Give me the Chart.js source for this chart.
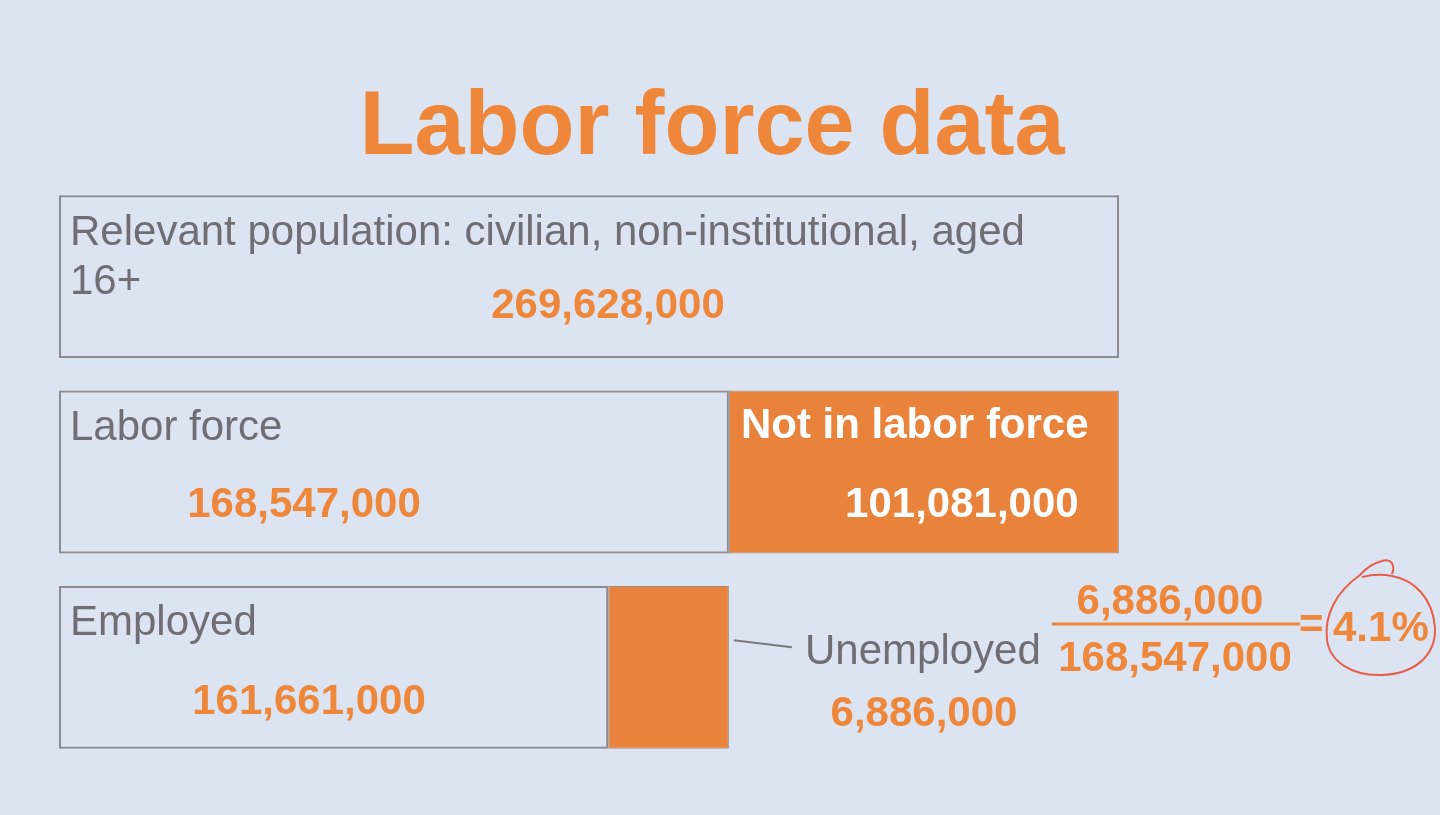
<!DOCTYPE html>
<html>
<head>
<meta charset="utf-8">
<script src="https://cdn.jsdelivr.net/npm/chart.js@4.4.0/dist/chart.umd.min.js"></script>
<style>
  html, body { margin: 0; padding: 0; background: #dce4f2; }
  #wrap { width: 1440px; height: 815px; position: relative; }
</style>
</head>
<body>
<div id="wrap"><canvas id="labor-chart"></canvas></div>
<script>
// rows of the slide, top to bottom
const rows = ['Population', 'Labor force split', 'Employment split'];

// bar widths in millions, as the slide sketches them
const firstPart = [269.628, 170.4, 139.7];
const secondPart = [null, 99.2, 30.7];

// texts printed on the bars
const firstNames = ['Relevant population: civilian, non-institutional, aged\n16+', 'Labor force', 'Employed'];
const firstCounts = ['269,628,000', '168,547,000', '161,661,000'];
const secondNames = [null, 'Not in labor force', 'Unemployed'];
const secondCounts = [null, '101,081,000', '6,886,000'];

// unemployment rate fraction
const rateTop = '6,886,000';
const rateBottom = '168,547,000';
const rateText = '4.1%';

const ORANGE = '#ee873a';
const BAR_ORANGE = '#e9823a';
const GRAY = '#6f6f73';
const FONT = '"Liberation Sans", Arial, sans-serif';

const slideText = {
  id: 'slideText',
  beforeDraw(chart) {
    const c = chart.ctx;
    c.save();
    c.fillStyle = '#dce4f2';
    c.fillRect(0, 0, chart.width, chart.height);
    c.restore();
  },
  afterDraw(chart) {
    const c = chart.ctx;
    const m1 = chart.getDatasetMeta(0).data;
    const m2 = chart.getDatasetMeta(1).data;
    c.save();

    // title
    c.textBaseline = 'alphabetic';
    c.font = 'bold 90px ' + FONT;
    c.fillStyle = ORANGE;
    c.textAlign = 'center';
    c.fillText('Labor force data', 712, 154);

    c.textBaseline = 'middle';
    const valueDx = [549, 245, 250];
    const valueDy = [111, 115, 117];
    m1.forEach((bar, i) => {
      const left = bar.base;
      const top = bar.y - bar.height / 2;
      c.font = '42px ' + FONT;
      c.fillStyle = GRAY;
      c.textAlign = 'left';
      firstNames[i].split('\n').forEach((line, k) => {
        c.fillText(line, left + 11, top + 38 + k * 49);
      });
      c.font = 'bold 42px ' + FONT;
      c.fillStyle = ORANGE;
      c.textAlign = 'center';
      c.fillText(firstCounts[i], left + valueDx[i], top + valueDy[i]);
    });

    // not in labor force (inside the orange bar)
    let b = m2[1];
    let top = b.y - b.height / 2;
    c.font = 'bold 42px ' + FONT;
    c.fillStyle = '#ffffff';
    c.textAlign = 'left';
    c.fillText(secondNames[1], b.base + 12, top + 36);
    c.textAlign = 'center';
    c.fillText(secondCounts[1], b.base + 233, top + 115);

    // unemployed (outside, with a leader line)
    b = m2[2];
    c.strokeStyle = '#7a7a7e';
    c.lineWidth = 2;
    c.beginPath();
    c.moveTo(b.x + 5, b.y - 27);
    c.lineTo(b.x + 63, b.y - 20);
    c.stroke();
    c.font = '42px ' + FONT;
    c.fillStyle = GRAY;
    c.textAlign = 'left';
    c.fillText(secondNames[2], 805, 652);
    c.font = 'bold 42px ' + FONT;
    c.fillStyle = ORANGE;
    c.textAlign = 'center';
    c.fillText(secondCounts[2], 924, 714);

    // fraction
    c.fillText(rateTop, 1170, 602);
    c.fillText(rateBottom, 1175, 659);
    c.strokeStyle = ORANGE;
    c.lineWidth = 3;
    c.beginPath();
    c.moveTo(1052, 624);
    c.lineTo(1300, 624);
    c.stroke();
    c.textAlign = 'left';
    c.fillText('=', 1299, 626);
    c.fillText(rateText, 1333, 629);

    // hand-drawn circle
    c.strokeStyle = '#e85d4a';
    c.lineWidth = 2;
    c.beginPath();
    c.moveTo(1392, 574);
    c.bezierCurveTo(1396, 564, 1390, 558, 1382, 561);
    c.bezierCurveTo(1374, 563, 1366, 568, 1360, 575);
    c.bezierCurveTo(1336, 592, 1324, 615, 1327, 640);
    c.bezierCurveTo(1330, 662, 1352, 676, 1382, 675);
    c.bezierCurveTo(1414, 674, 1436, 656, 1435, 628);
    c.bezierCurveTo(1433, 598, 1414, 580, 1392, 576);
    c.bezierCurveTo(1382, 574, 1370, 575, 1362, 577);
    c.stroke();
    c.restore();
  }
};

new Chart(document.getElementById('labor-chart'), {
  type: 'bar',
  data: {
    labels: rows,
    datasets: [
      {
        label: 'first part',
        data: firstPart,
        backgroundColor: 'rgba(0,0,0,0)',
        borderColor: '#8c8c90',
        borderWidth: 2,
        borderSkipped: false
      },
      {
        label: 'second part',
        data: secondPart,
        backgroundColor: BAR_ORANGE,
        borderColor: '#9a8f88',
        borderWidth: 1,
        borderSkipped: false
      }
    ]
  },
  options: {
    indexAxis: 'y',
    responsive: true,
    maintainAspectRatio: false,
    animation: false,
    devicePixelRatio: 1,
    layout: { padding: { left: 59, right: 321, top: 179, bottom: 50 } },
    datasets: { bar: { categoryPercentage: 1, barPercentage: 0.834 } },
    scales: {
      x: { stacked: true, min: 0, max: 269.628, display: false },
      y: { stacked: true, display: false }
    },
    plugins: {
      legend: { display: false },
      tooltip: { enabled: false }
    }
  },
  plugins: [slideText]
});
</script>
</body>
</html>
